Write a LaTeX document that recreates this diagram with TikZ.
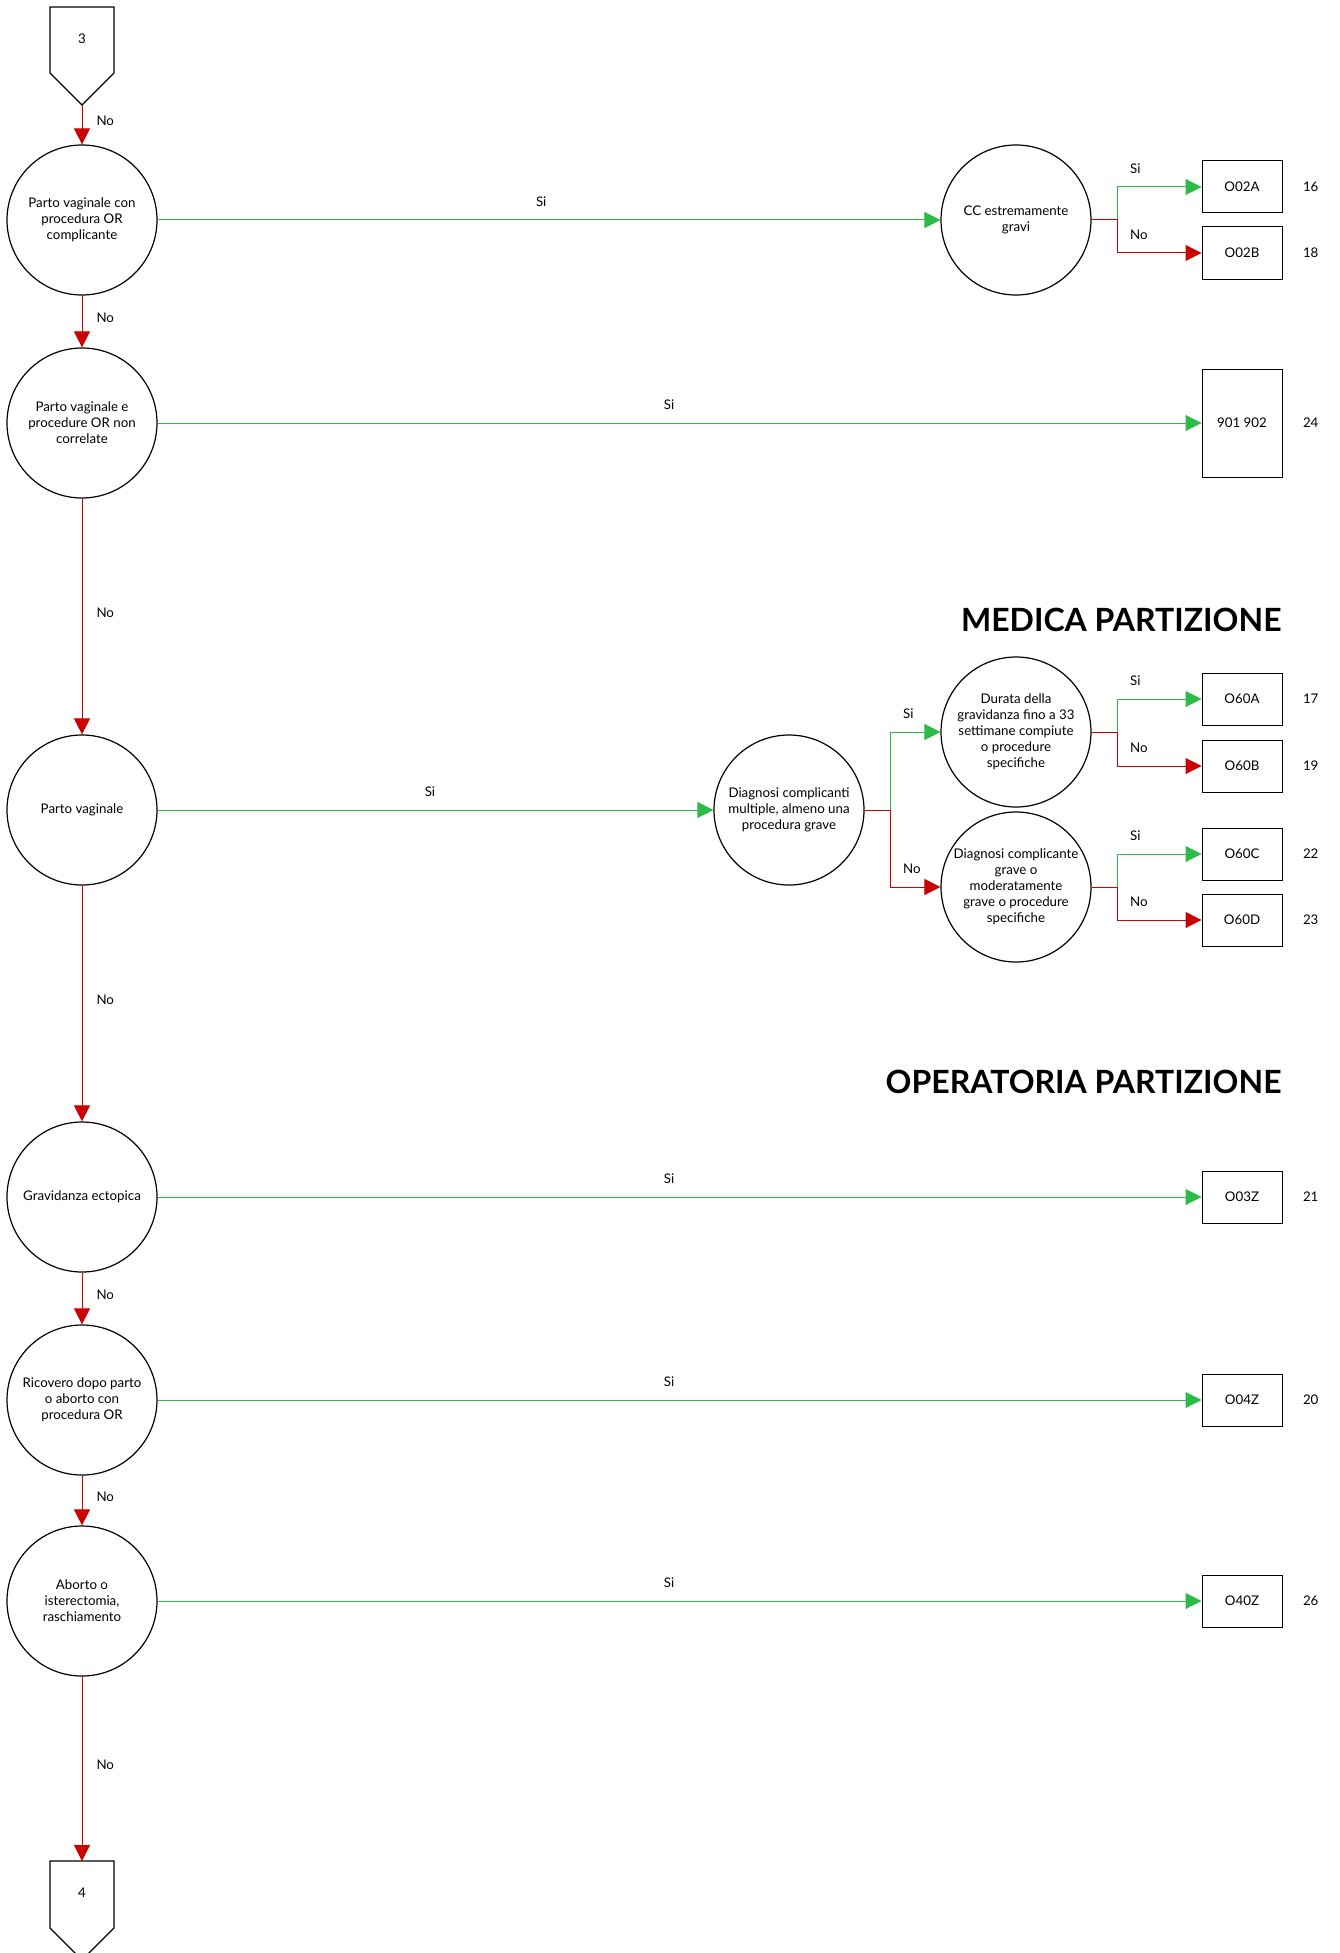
\documentclass[tikz,border=0pt]{standalone}
\usepackage{fontspec}
\setmainfont{Lato}
\usetikzlibrary{arrows.meta}
\definecolor{sigreen}{RGB}{45,187,72}
\definecolor{nored}{RGB}{204,0,0}
\begin{document}
\begin{tikzpicture}[x=1pt,y=-1pt,font=\fontsize{13.3}{16}\selectfont,line width=1pt,
  q/.style={circle,draw,line width=1.2pt,minimum size=150pt,inner sep=0pt,align=center},
  r/.style={draw,line width=1pt,minimum width=80pt,minimum height=52pt},
  si/.style={draw=sigreen,-{Triangle[length=16pt,width=16pt]}},
  no/.style={draw=nored,-{Triangle[length=16pt,width=16pt]}},
  lab/.style={inner sep=0pt,anchor=south,yshift=13pt},
  blab/.style={inner sep=0pt,anchor=south west,xshift=12pt,yshift=13pt},
  vlab/.style={inner sep=0pt,anchor=west,xshift=14pt,yshift=4pt},
  head/.style={inner sep=0pt,anchor=east,font=\fontsize{32}{38}\selectfont\bfseries}]
\useasboundingbox (0,0) rectangle (1340,1953);
\draw[line width=1.2pt](50,7)--(114,7)--(114,73)--(82,105)--(50,73)--cycle;
\node (p3) at (82,39) {3};
\coordinate (p3tip) at (82,105);
\draw[line width=1.2pt](50,1861)--(114,1861)--(114,1928)--(82,1960)--(50,1928)--cycle;
\node (p4) at (82,1893) {4};
\coordinate (p4top) at (82,1861);
\foreach \n/\y/\t in {c1/220/{Parto vaginale con\\procedura OR\\complicante},c2/423/{Parto vaginale e\\procedure OR non\\correlate},c3/810/{Parto vaginale},c4/1197/{Gravidanza ectopica},c5/1400/{Ricovero dopo parto\\o aborto con\\procedura OR},c6/1601/{Aborto o\\isterectomia,\\raschiamento}}
  \node[q] (\n) at (82,\y) {\t};
\node[q] (cc) at (1016,220) {CC estremamente\\gravi};
\node[q] (dg) at (789,810) {Diagnosi complicanti\\multiple, almeno una\\procedura grave};
\node[q] (d1) at (1016,732) {Durata della\\gravidanza fino a 33\\settimane compiute\\o procedure\\specifiche};
\node[q] (d2) at (1016,887) {Diagnosi complicante\\grave o\\moderatamente\\grave o procedure\\specifiche};
\node[r,minimum height=108pt] (b902) at (1242,423) {901 902};
\node[inner sep=0pt,anchor=west] (n902) at ([xshift=20pt]b902.east) {24};
\foreach \n/\y/\k in {O02A/187/16,O02B/253/18,O60A/699/17,O60B/766/19,O60C/854/22,O60D/920/23,O03Z/1197/21,O04Z/1400/20,O40Z/1601/26}{
  \node[r] (\n) at (1242,\y) {\n};
  \node[inner sep=0pt,anchor=west] (n\n) at ([xshift=20pt]\n.east) {\k};}
\foreach \a/\b in {p3tip/c1,c1/c2,c2/c3,c3/c4,c4/c5,c5/c6,c6/p4top}
  \draw[no] (\a) -- node[vlab]{No} (\b);
\foreach \a/\b in {c1/cc,c2/b902,c3/dg,c4/O03Z,c5/O04Z,c6/O40Z}
  \draw[si] (\a) -- node[lab,pos=0.49]{Si} (\b);
\foreach \a/\s/\o in {cc/O02A/O02B,d1/O60A/O60B,d2/O60C/O60D,dg/d1/d2}{
  \draw[si] (\a.east) -- ++(26,0) |- node[blab]{Si} (\s);
  \draw[no] (\a.east) -- ++(26,0) |- node[blab]{No} (\o);}
\node[head] (med) at (1282,620) {MEDICA PARTIZIONE};
\node[head] (ope) at (1282,1082) {OPERATORIA PARTIZIONE};
\end{tikzpicture}
\end{document}
